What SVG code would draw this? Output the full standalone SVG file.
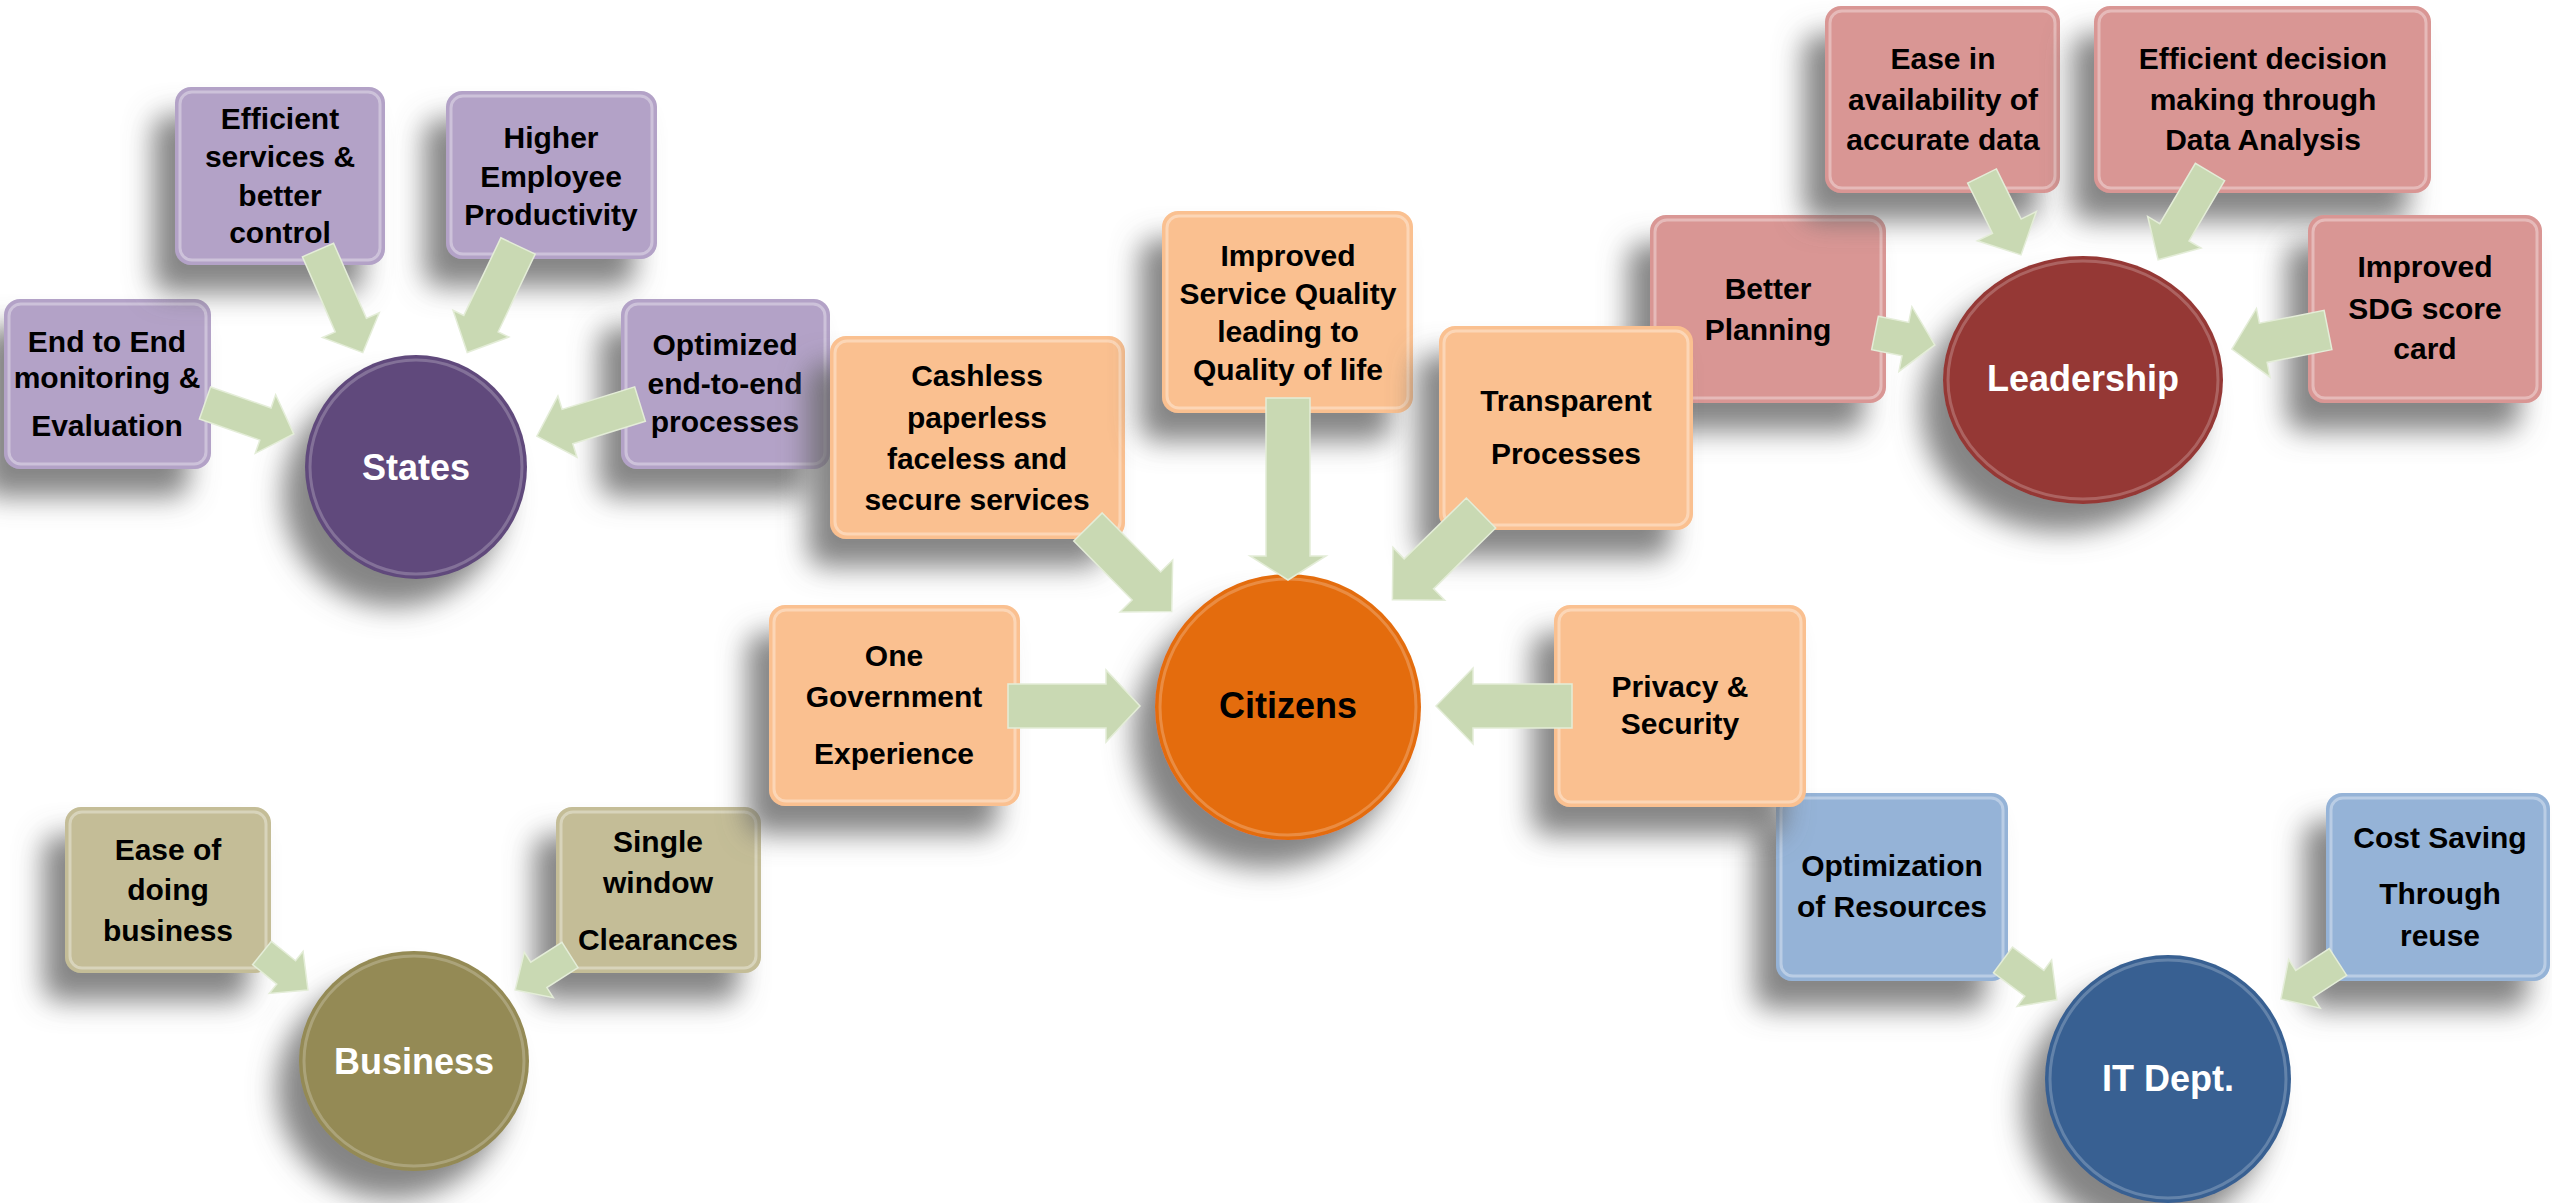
<svg xmlns="http://www.w3.org/2000/svg" width="2552" height="1203" viewBox="0 0 2552 1203">
<defs>
<filter id="sh" x="-40%" y="-40%" width="180%" height="180%">
<feGaussianBlur in="SourceAlpha" stdDeviation="14"/>
<feOffset dx="-22" dy="28" result="b"/>
<feFlood flood-color="#666666" flood-opacity="0.8"/>
<feComposite in2="b" operator="in"/>
<feMerge><feMergeNode/><feMergeNode in="SourceGraphic"/></feMerge>
</filter>
</defs>
<style>
.box{filter:url(#sh);}
.hl{fill:none;stroke:#ffffff;stroke-opacity:0.35;stroke-width:3;}
.ring{fill:none;stroke:#ffffff;stroke-opacity:0.22;stroke-width:3;}
.t{font-family:"Liberation Sans",Arial,sans-serif;font-weight:bold;font-size:30px;fill:#000;text-anchor:middle;}
.c{font-family:"Liberation Sans",Arial,sans-serif;font-weight:bold;font-size:36px;fill:#fff;text-anchor:middle;}
.pu{fill:#B3A2C7;} .puc{fill:#604A7B;}
.or{fill:#FAC090;} .orc{fill:#E46C0A;}
.rd{fill:#D99694;} .rdc{fill:#953735;}
.ol{fill:#C4BD97;} .olc{fill:#948A54;}
.bl{fill:#95B3D7;} .blc{fill:#376092;}
.ar{fill:#C9D9B3;stroke:#E4EDD8;stroke-width:1.5;stroke-linejoin:miter;}
</style>

<!-- States cluster -->
<g id="n-end-to-end">
<rect class="box pu" x="4" y="299" width="207" height="170" rx="16"/>
<rect class="hl" x="9" y="304" width="197" height="160" rx="12"/>
<text class="t" x="107" y="352">End to End</text>
<text class="t" x="107" y="388">monitoring &amp;</text>
<text class="t" x="107" y="436">Evaluation</text>
</g>
<g id="n-efficient-services">
<rect class="box pu" x="175" y="87" width="210" height="178" rx="16"/>
<rect class="hl" x="180" y="92" width="200" height="168" rx="12"/>
<text class="t" x="280" y="129">Efficient</text>
<text class="t" x="280" y="167">services &amp;</text>
<text class="t" x="280" y="206">better</text>
<text class="t" x="280" y="243">control</text>
</g>
<g id="n-higher-productivity">
<rect class="box pu" x="446" y="91" width="211" height="168" rx="16"/>
<rect class="hl" x="451" y="96" width="201" height="158" rx="12"/>
<text class="t" x="551" y="148">Higher</text>
<text class="t" x="551" y="187">Employee</text>
<text class="t" x="551" y="225">Productivity</text>
</g>
<g id="n-optimized">
<rect class="box pu" x="621" y="299" width="209" height="170" rx="16"/>
<rect class="hl" x="626" y="304" width="199" height="160" rx="12"/>
<text class="t" x="725" y="355">Optimized</text>
<text class="t" x="725" y="394">end-to-end</text>
<text class="t" x="725" y="432">processes</text>
</g>
<g id="n-states">
<ellipse class="box puc" cx="416" cy="467" rx="111" ry="112"/>
<ellipse class="ring" cx="416" cy="467" rx="106" ry="107"/>
<text class="c" x="416" y="480">States</text>
</g>

<!-- Business cluster -->
<g id="n-ease-doing">
<rect class="box ol" x="65" y="807" width="206" height="166" rx="16"/>
<rect class="hl" x="70" y="812" width="196" height="156" rx="12"/>
<text class="t" x="168" y="860">Ease of</text>
<text class="t" x="168" y="900">doing</text>
<text class="t" x="168" y="941">business</text>
</g>
<g id="n-single-window">
<rect class="box ol" x="556" y="807" width="205" height="166" rx="16"/>
<rect class="hl" x="561" y="812" width="195" height="156" rx="12"/>
<text class="t" x="658" y="852">Single</text>
<text class="t" x="658" y="893">window</text>
<text class="t" x="658" y="950">Clearances</text>
</g>
<g id="n-business">
<ellipse class="box olc" cx="414" cy="1061" rx="115" ry="110"/>
<ellipse class="ring" cx="414" cy="1061" rx="110" ry="105"/>
<text class="c" x="414" y="1074">Business</text>
</g>

<!-- Leadership cluster -->
<g id="n-better-planning">
<rect class="box rd" x="1650" y="215" width="236" height="188" rx="16"/>
<rect class="hl" x="1655" y="220" width="226" height="178" rx="12"/>
<text class="t" x="1768" y="299">Better</text>
<text class="t" x="1768" y="340">Planning</text>
</g>
<g id="n-ease-data">
<rect class="box rd" x="1825" y="6" width="235" height="187" rx="16"/>
<rect class="hl" x="1830" y="11" width="225" height="177" rx="12"/>
<text class="t" x="1943" y="69">Ease in</text>
<text class="t" x="1943" y="110">availability of</text>
<text class="t" x="1943" y="150">accurate data</text>
</g>
<g id="n-efficient-decision">
<rect class="box rd" x="2094" y="6" width="337" height="187" rx="16"/>
<rect class="hl" x="2099" y="11" width="327" height="177" rx="12"/>
<text class="t" x="2263" y="69">Efficient decision</text>
<text class="t" x="2263" y="110">making through</text>
<text class="t" x="2263" y="150">Data Analysis</text>
</g>
<g id="n-sdg">
<rect class="box rd" x="2308" y="215" width="234" height="188" rx="16"/>
<rect class="hl" x="2313" y="220" width="224" height="178" rx="12"/>
<text class="t" x="2425" y="277">Improved</text>
<text class="t" x="2425" y="319">SDG score</text>
<text class="t" x="2425" y="359">card</text>
</g>
<g id="n-leadership">
<ellipse class="box rdc" cx="2083" cy="380" rx="140" ry="124"/>
<ellipse class="ring" cx="2083" cy="380" rx="135" ry="119"/>
<text class="c" x="2083" y="391">Leadership</text>
</g>

<!-- IT cluster -->
<g id="n-optimization">
<rect class="box bl" x="1776" y="793" width="232" height="188" rx="16"/>
<rect class="hl" x="1781" y="798" width="222" height="178" rx="12"/>
<text class="t" x="1892" y="876">Optimization</text>
<text class="t" x="1892" y="917">of Resources</text>
</g>
<g id="n-cost-saving">
<rect class="box bl" x="2326" y="793" width="224" height="188" rx="16"/>
<rect class="hl" x="2331" y="798" width="214" height="178" rx="12"/>
<text class="t" x="2440" y="848">Cost Saving</text>
<text class="t" x="2440" y="904">Through</text>
<text class="t" x="2440" y="946">reuse</text>
</g>
<g id="n-it-dept">
<ellipse class="box blc" cx="2168" cy="1079" rx="123" ry="124"/>
<ellipse class="ring" cx="2168" cy="1079" rx="118" ry="119"/>
<text class="c" x="2168" y="1091">IT Dept.</text>
</g>

<!-- Citizens cluster -->
<g id="n-cashless">
<rect class="box or" x="830" y="336" width="295" height="203" rx="16"/>
<rect class="hl" x="835" y="341" width="285" height="193" rx="12"/>
<text class="t" x="977" y="386">Cashless</text>
<text class="t" x="977" y="428">paperless</text>
<text class="t" x="977" y="469">faceless and</text>
<text class="t" x="977" y="510">secure services</text>
</g>
<g id="n-improved-service">
<rect class="box or" x="1162" y="211" width="251" height="202" rx="16"/>
<rect class="hl" x="1167" y="216" width="241" height="192" rx="12"/>
<text class="t" x="1288" y="266">Improved</text>
<text class="t" x="1288" y="304">Service Quality</text>
<text class="t" x="1288" y="342">leading to</text>
<text class="t" x="1288" y="380">Quality of life</text>
</g>
<g id="n-transparent">
<rect class="box or" x="1439" y="326" width="254" height="204" rx="16"/>
<rect class="hl" x="1444" y="331" width="244" height="194" rx="12"/>
<text class="t" x="1566" y="411">Transparent</text>
<text class="t" x="1566" y="464">Processes</text>
</g>
<g id="n-one-government">
<rect class="box or" x="769" y="605" width="251" height="201" rx="16"/>
<rect class="hl" x="774" y="610" width="241" height="191" rx="12"/>
<text class="t" x="894" y="666">One</text>
<text class="t" x="894" y="707">Government</text>
<text class="t" x="894" y="764">Experience</text>
</g>
<g id="n-privacy">
<rect class="box or" x="1554" y="605" width="252" height="202" rx="16"/>
<rect class="hl" x="1559" y="610" width="242" height="192" rx="12"/>
<text class="t" x="1680" y="697">Privacy &amp;</text>
<text class="t" x="1680" y="734">Security</text>
</g>
<g id="n-citizens">
<ellipse class="box orc" cx="1288" cy="707" rx="133" ry="133"/>
<ellipse class="ring" cx="1288" cy="707" rx="128" ry="128"/>
<text class="c" x="1288" y="718" style="fill:#000">Citizens</text>
</g>

<!-- Connectors -->
<g id="connectors">
<polygon class="ar" points="0,-17 82,-17 82,-31 112,0 82,31 82,17 0,17" transform="translate(318,250) rotate(66.4)"/>
<polygon class="ar" points="0,-19 86,-19 86,-31 118,0 86,31 86,19 0,19" transform="translate(518,246) rotate(115.5)"/>
<polygon class="ar" points="0,-17 64,-17 64,-31 94,0 64,31 64,17 0,17" transform="translate(205,403) rotate(19.2)"/>
<polygon class="ar" points="0,-18 76,-18 76,-32 108,0 76,32 76,18 0,18" transform="translate(640,404) rotate(162.7)"/>
<polygon class="ar" points="0,-20 83,-20 83,-37 119,0 83,37 83,20 0,20" transform="translate(1088,527) rotate(45.3)"/>
<polygon class="ar" points="0,-22 158,-22 158,-38 182,0 158,38 158,22 0,22" transform="translate(1288,398) rotate(90)"/>
<polygon class="ar" points="0,-21 87,-21 87,-37 124,0 87,37 87,21 0,21" transform="translate(1481,513) rotate(135.6)"/>
<polygon class="ar" points="0,-22 98,-22 98,-36 132,0 98,36 98,22 0,22" transform="translate(1008,706)"/>
<polygon class="ar" points="0,-22 99,-22 99,-38 136,0 99,38 99,22 0,22" transform="translate(1572,706) rotate(180)"/>
<polygon class="ar" points="0,-16 56,-16 56,-33 88,0 56,33 56,16 0,16" transform="translate(1982,176) rotate(63.7)"/>
<polygon class="ar" points="0,-17 70,-17 70,-31 102,0 70,31 70,17 0,17" transform="translate(2210,172) rotate(120.6)"/>
<polygon class="ar" points="0,-17 31,-17 31,-33 61,0 31,33 31,17 0,17" transform="translate(1875,333) rotate(11.3)"/>
<polygon class="ar" points="0,-20 66,-20 66,-35 98,0 66,35 66,20 0,20" transform="translate(2328,330) rotate(168.8)"/>
<polygon class="ar" points="0,-15 31,-15 31,-27 59,0 31,27 31,15 0,15" transform="translate(262,953) rotate(38.8)"/>
<polygon class="ar" points="0,-15 37,-15 37,-27 65,0 37,27 37,15 0,15" transform="translate(570,955) rotate(147.5)"/>
<polygon class="ar" points="0,-16 39,-16 39,-29 67,0 39,29 39,16 0,16" transform="translate(2003,960) rotate(36.5)"/>
<polygon class="ar" points="0,-16 40,-16 40,-29 68,0 40,29 40,16 0,16" transform="translate(2338,962) rotate(147)"/>
</g>
</svg>
